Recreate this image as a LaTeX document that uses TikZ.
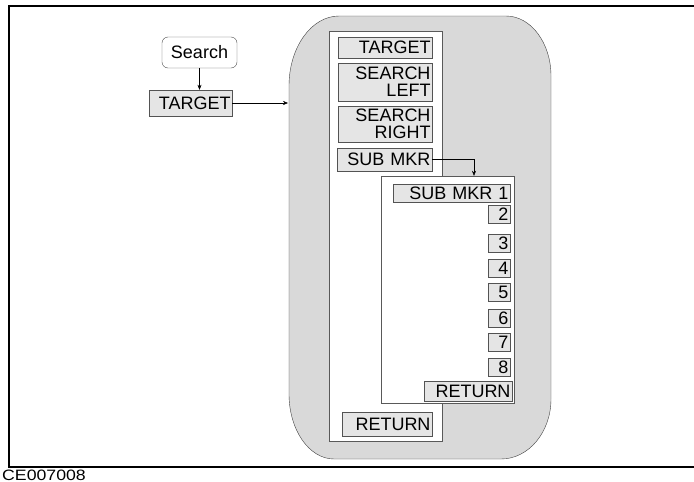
\documentclass[tikz,border=0pt]{standalone}
\usepackage{fontspec}
\setmainfont{Liberation Sans}
\newfontfamily\capfont[FakeStretch=1.18]{Liberation Sans}
\usetikzlibrary{arrows.meta,positioning}

\begin{document}
\begin{tikzpicture}[x=1pt, y=-1pt,
  key/.style={draw=gray!65!black, fill=gray!20, inner xsep=1.5pt, inner ysep=0pt,
    align=right, font=\fontsize{18}{17}\selectfont},
  panel/.style={draw=gray!70!black, fill=white, inner sep=0pt},
  arrow/.style={-{Stealth[length=5pt, width=4pt]}, thin},
]
  \useasboundingbox (0,0) rectangle (694,482);
  \draw[line width=2.5pt] (694,6) -- (9,6) -- (9,467) -- (694,467);
  \node[anchor=base west, font=\capfont\fontsize{15}{15}\selectfont, inner sep=0pt] (fig) at (2,480) {CE007008};

  % softkey menu background
  \draw[draw=gray!50!black, fill=gray!30]
    (289,86) arc[start angle=180, end angle=270, x radius=50, y radius=70]
    -- (506,16) arc[start angle=270, end angle=360, x radius=45, y radius=60]
    -- (551,399) arc[start angle=0, end angle=90, x radius=50, y radius=60]
    -- (334,459) arc[start angle=90, end angle=180, x radius=45, y radius=65]
    -- cycle;
  \coordinate (blobw) at (288,103);

  \node[draw=gray!60!black, rounded corners=6pt, minimum width=75, minimum height=31,
    font=\fontsize{18}{16}\selectfont, inner sep=0pt] (search) at (199.5,52.5) {Search};
  \node[key, text width=80, minimum height=26] (target) at (190.5,103) {TARGET};

  \node[panel, minimum width=113, minimum height=410] (menu) at (385.5,236) {};
  \node[key, text width=91, minimum height=21] (tgt) at (385,47.5) {TARGET};
  \node[key, text width=91, minimum height=38] (left) at (385,82) {SEARCH\\LEFT};
  \node[key, text width=91, minimum height=36] (right) at (385,124) {SEARCH\\RIGHT};
  \node[key, text width=92, minimum height=23] (submkr) at (384.5,159.5) {SUB MKR};
  \node[key, text width=87, minimum height=24] (ret) at (387,424) {RETURN};

  \node[panel, minimum width=133, minimum height=227] (sub) at (447.5,289.5) {};
  \node[key, text width=114, minimum height=18] (sm1) at (451.5,193.5) {SUB MKR 1};
  \foreach \n/\y in {2/214, 3/243, 4/268, 5/292, 6/318, 7/342, 8/367}
    \node[key, text width=19, minimum height=18] (sm\n) at (499,\y) {\n};
  \node[key, text width=85, minimum height=20] (subret) at (468,391) {RETURN};

  \draw[arrow] (search.south) -- (search.south |- target.north);
  \draw[arrow] (target.east) -- (blobw);
  \draw[arrow] (submkr.east) -| ([xshift=26.5pt]sub.north);
\end{tikzpicture}
\end{document}
